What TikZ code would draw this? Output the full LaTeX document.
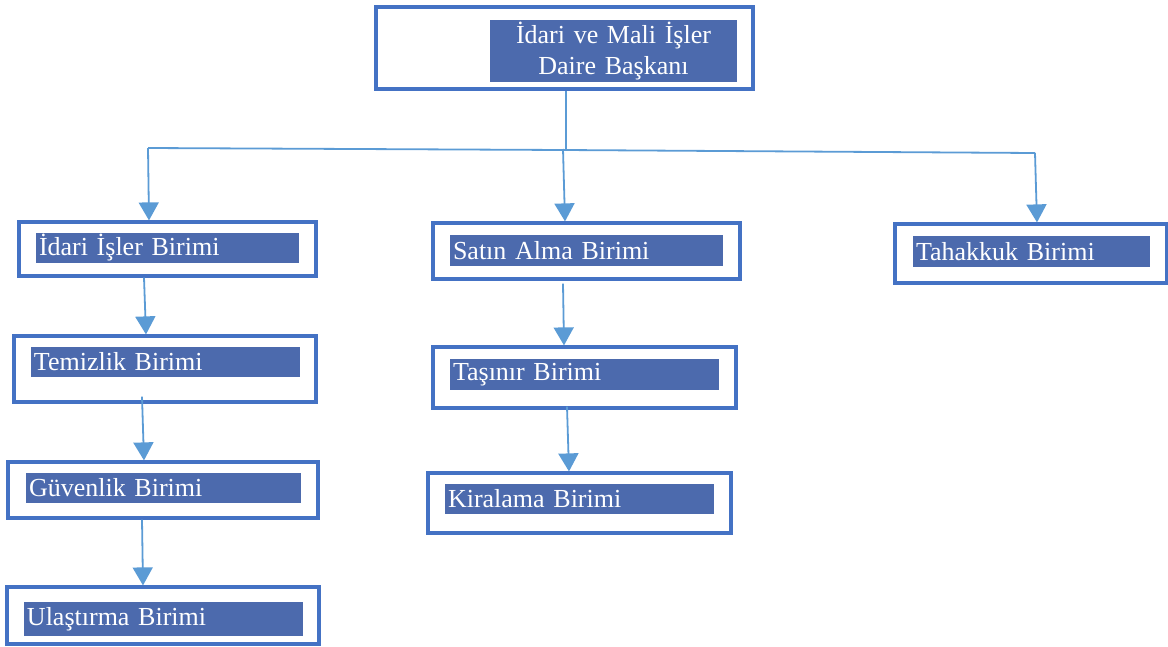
\documentclass[tikz,border=0pt]{standalone}
\usepackage{fontspec}
\setmainfont{Liberation Serif}
\usepackage{xcolor}
\usetikzlibrary{arrows.meta}

\definecolor{frameblue}{HTML}{4472C4}
\definecolor{fillblue}{HTML}{4C6AAD}
\definecolor{lineblue}{HTML}{5B9BD5}

\tikzset{
	unit/.style={draw=frameblue, line width=3.2pt, fill=white, inner sep=0pt},
	lbl/.style={fill=fillblue, text=white, inner xsep=3pt, inner ysep=0pt, align=left,
		font=\fontsize{26}{31}\selectfont},
	link/.style={draw=lineblue, line width=1.8pt},
	arr/.style={link, -{Triangle[width=20pt,length=18pt]}}
}

\begin{document}
\begin{tikzpicture}[x=1pt, y=-1pt]
	\useasboundingbox (0,0) rectangle (1168,646);

	% frames
	\node[unit, minimum width=377pt, minimum height=82pt] (top) at (564.5,48) {};
	\node[unit, minimum width=297pt, minimum height=54pt] (idari) at (167.5,249) {};
	\node[unit, minimum width=302pt, minimum height=66pt] (temiz) at (165,369) {};
	\node[unit, minimum width=310pt, minimum height=56pt] (guven) at (163,490) {};
	\node[unit, minimum width=312pt, minimum height=57pt] (ulas) at (163,615.5) {};
	\node[unit, minimum width=307pt, minimum height=56pt] (satin) at (586.5,251) {};
	\node[unit, minimum width=303pt, minimum height=61pt] (tasinir) at (584.5,377.5) {};
	\node[unit, minimum width=303pt, minimum height=60pt] (kira) at (579.5,503) {};
	\node[unit, minimum width=272pt, minimum height=59pt] (tahak) at (1031,253.5) {};

	% labels
	\node[lbl, align=center, text width=241pt, minimum height=62pt] (toptxt) at (613.5,51) {İdari ve Mali İşler\\Daire Başkanı};
	\node[lbl, text width=257pt, minimum height=30pt] (idaritxt) at (167.5,248) {İdari İşler Birimi};
	\node[lbl, text width=263pt, minimum height=30pt] (temiztxt) at (165.5,362) {Temizlik Birimi};
	\node[lbl, text width=269pt, minimum height=30pt] (guventxt) at (163.5,488) {Güvenlik Birimi};
	\node[lbl, text width=273pt, minimum height=34pt] (ulastxt) at (163.5,619) {Ulaştırma Birimi};
	\node[lbl, text width=267pt, minimum height=31pt] (satintxt) at (586.5,250.5) {Satın Alma Birimi};
	\node[lbl, text width=263pt, minimum height=31pt] (tasinirtxt) at (584.5,374.5) {Taşınır Birimi};
	\node[lbl, text width=263pt, minimum height=30pt] (kiratxt) at (579.5,499) {Kiralama Birimi};
	\node[lbl, text width=231pt, minimum height=31pt] (tahaktxt) at (1031.5,251.5) {Tahakkuk Birimi};

	% tree lines
	\coordinate (hl) at (148,148);
	\coordinate (hm) at (564,150);
	\coordinate (hr) at (1035,153);
	\draw[link] ([xshift=1.5pt]top.south) -- ([xshift=2pt]hm);
	\draw[link] (hl) -- (hm) -- (hr);

	\draw[arr] (hl) -- ([xshift=-18.5pt]idari.north);
	\draw[arr] ([xshift=-1pt,yshift=1pt]hm) -- ([xshift=-21.5pt]satin.north);
	\draw[arr] (hr) -- ([xshift=6pt]tahak.north);

	\draw[arr] ([xshift=-23.5pt]idari.south) -- ([xshift=-19pt]temiz.north);
	\draw[arr] ([xshift=-23pt,yshift=7pt]temiz.south) -- ([xshift=-19pt]guven.north);
	\draw[arr] ([xshift=-21pt]guven.south) -- ([xshift=-20pt]ulas.north);
	\draw[arr] ([xshift=-23.5pt,yshift=-3pt]satin.south) -- ([xshift=-20.5pt]tasinir.north);
	\draw[arr] ([xshift=-17.5pt,yshift=3pt]tasinir.south) -- ([xshift=-10.5pt]kira.north);
\end{tikzpicture}
\end{document}
